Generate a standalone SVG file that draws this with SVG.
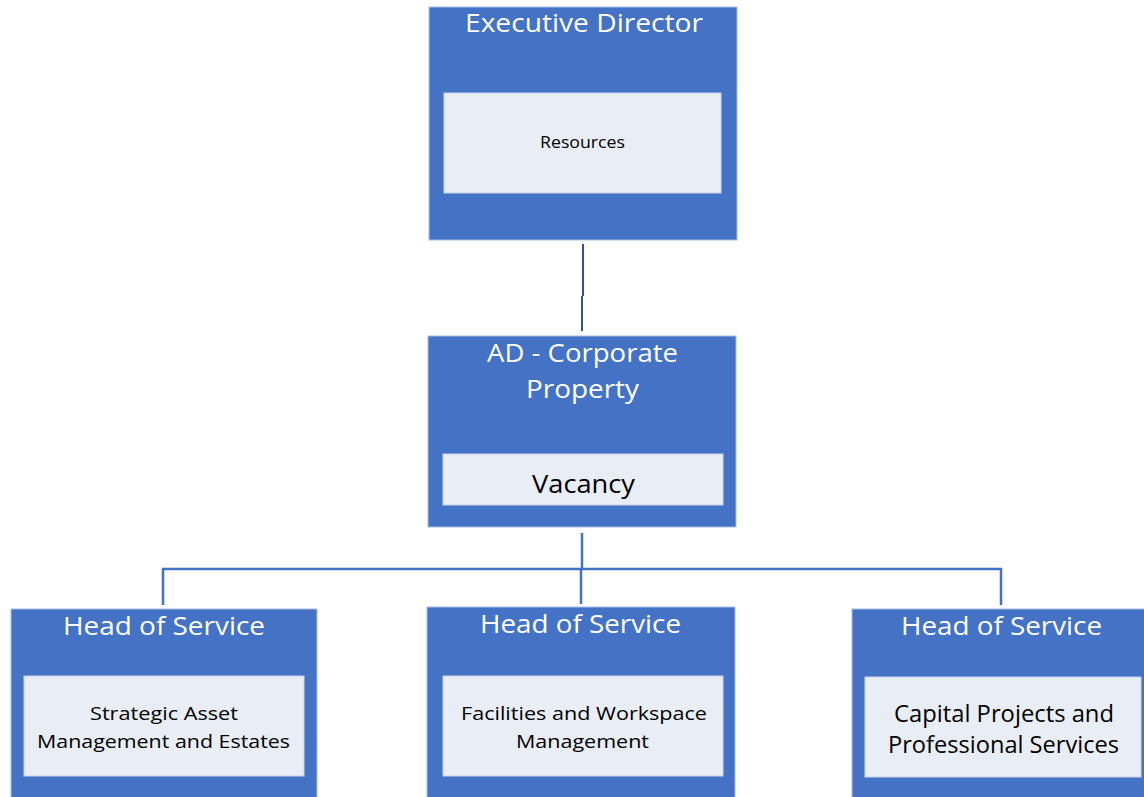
<svg xmlns="http://www.w3.org/2000/svg" width="1144" height="797" viewBox="0 0 1144 797">
<style>
.box{fill:#4472C4;stroke:#A9BEE6;stroke-width:1}
.inner{fill:#E9EDF6;stroke:#C9D4EC;stroke-width:1}
.t{font-family:"Open Sans","Noto Sans","Liberation Sans",sans-serif;fill:#FFFFFF;text-anchor:middle}
.b{font-family:"Open Sans","Noto Sans","Liberation Sans",sans-serif;fill:#000000;text-anchor:middle}
.c{fill:none;stroke:#4472C4;stroke-width:2.5}
</style>
<rect width="1144" height="797" fill="#FFFFFF"/>
<g id="connectors">
<path class="c" d="M583 244 V296 M582 296 V331" style="stroke:#2F5597;stroke-width:2"/>
<path class="c" d="M582 533 V569 M163 605 V569 H1001 V605 M581 569 V604"/>
</g>
<g id="executive-director">
<rect class="box" x="429" y="7" width="308" height="233"/>
<text class="t" x="584" y="32" font-size="25" textLength="238" lengthAdjust="spacingAndGlyphs">Executive Director</text>
<rect class="inner" x="444" y="93" width="277" height="100"/>
<text class="b" x="582.5" y="148" font-size="16" textLength="85" lengthAdjust="spacingAndGlyphs">Resources</text>
</g>
<g id="ad-corporate-property">
<rect class="box" x="428" y="336" width="308" height="191"/>
<text class="t" x="582.5" y="362" font-size="25" textLength="191" lengthAdjust="spacingAndGlyphs">AD - Corporate</text>
<text class="t" x="582.5" y="398" font-size="25" textLength="113" lengthAdjust="spacingAndGlyphs">Property</text>
<rect class="inner" x="443" y="454" width="280" height="51"/>
<text class="b" x="583.5" y="493" font-size="25" textLength="103" lengthAdjust="spacingAndGlyphs">Vacancy</text>
</g>
<g id="hos-strategic-asset">
<rect class="box" x="11" y="609" width="306" height="192"/>
<text class="t" x="164" y="635" font-size="25" textLength="202" lengthAdjust="spacingAndGlyphs">Head of Service</text>
<rect class="inner" x="24" y="676" width="280" height="100"/>
<text class="b" x="164" y="720" font-size="19" textLength="148" lengthAdjust="spacingAndGlyphs">Strategic Asset</text>
<text class="b" x="163.5" y="748" font-size="19" textLength="253" lengthAdjust="spacingAndGlyphs">Management and Estates</text>
</g>
<g id="hos-facilities">
<rect class="box" x="427" y="607" width="308" height="194"/>
<text class="t" x="580.5" y="633" font-size="25" textLength="201" lengthAdjust="spacingAndGlyphs">Head of Service</text>
<rect class="inner" x="443" y="676" width="280" height="100"/>
<text class="b" x="584" y="720" font-size="19" textLength="246" lengthAdjust="spacingAndGlyphs">Facilities and Workspace</text>
<text class="b" x="582.5" y="748" font-size="19" textLength="133" lengthAdjust="spacingAndGlyphs">Management</text>
</g>
<g id="hos-capital-projects">
<rect class="box" x="852" y="609" width="296" height="192"/>
<text class="t" x="1001.5" y="635" font-size="25" textLength="201" lengthAdjust="spacingAndGlyphs">Head of Service</text>
<rect class="inner" x="865" y="677" width="276" height="100"/>
<text class="b" x="1004" y="722" font-size="23" textLength="220" lengthAdjust="spacingAndGlyphs">Capital Projects and</text>
<text class="b" x="1003.5" y="753" font-size="23" textLength="231" lengthAdjust="spacingAndGlyphs">Professional Services</text>
</g>
</svg>
